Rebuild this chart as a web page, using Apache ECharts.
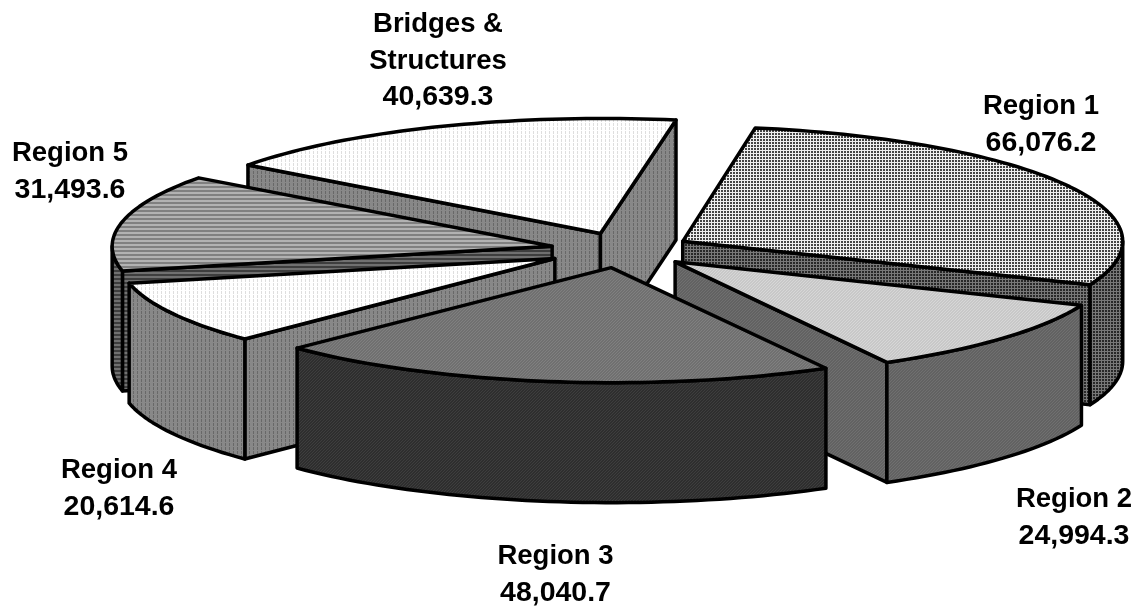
<!DOCTYPE html>
<html>
<head>
<meta charset="utf-8">
<style>html,body{margin:0;padding:0;background:#fff}#chart{width:1138px;height:610px}</style>
<script src="https://cdn.jsdelivr.net/npm/echarts@6/dist/echarts.min.js"></script>
</head>
<body>
<div id="chart"></div>
<script>
// Highway spending by region: exploded 3D pie built on a custom series.
const categories = ['Region 1', 'Region 2', 'Region 3', 'Region 4', 'Region 5', 'Bridges &\nStructures'];
const values = [66076.2, 24994.3, 48040.7, 20614.6, 31493.6, 40639.3];

// Projection of the tilted disc.
const disc = { cx: 621, cy: 250, rx: 441, ry: 115, height: 120, explode: 0.155, startDeg: 9.6 };

// Small horizontal corrections for the lens of the 3D view, per slice.
const rimShift = [1, 1, 1, -1, -1, 7];
const apexShift = [2, 3, 0, -6, -2, 5];

// Back-to-front paint order (indices into categories).
const paintOrder = [5, 4, 0, 3, 1, 2];

// Label centres per slice.
const labelCentres = [[1041, 125], [1074, 518], [555.5, 575], [119, 488.5], [70, 172], [438, 61]];

// Halftone tiles, one row of grey levels per pixel row.
function tile(rows) {
  const c = document.createElement('canvas');
  c.width = rows[0].length; c.height = rows.length;
  const g = c.getContext('2d');
  rows.forEach((row, y) => row.forEach((v, x) => {
    g.fillStyle = 'rgb(' + v + ',' + v + ',' + v + ')';
    g.fillRect(x, y, 1, 1);
  }));
  return { image: c, repeat: 'repeat' };
}
const gridFine = (hi, lo) => tile([[hi, hi, hi], [hi, lo, lo], [hi, lo, lo]]);
const diag = (a, b) => tile([[a, a, b], [a, b, a], [b, a, a]]);
const dots = (a, b) => tile([[a, b, a, a], [a, b, a, a], [a, a, a, a], [a, b, a, a]]);
const lines = (a, b) => tile([[a], [a], [b], [b]]);

const topFill = [gridFine(240, 70), diag(200, 215), diag(112, 128), dots(255, 222), lines(178, 128), dots(255, 222)];
const sideFill = [gridFine(120, 40), diag(98, 112), diag(46, 62), dots(136, 104), lines(112, 62), dots(136, 104)];

const total = values.reduce((s, v) => s + v, 0);
const rad = d => d * Math.PI / 180;
const slices = [];
values.reduce((acc, v, i) => {
  const a0 = disc.startDeg + acc / total * 360;
  const a1 = disc.startDeg + (acc + v) / total * 360;
  const mid = (a0 + a1) / 2;
  const bx = disc.cx + disc.explode * disc.rx * Math.sin(rad(mid));
  slices[i] = {
    a0, a1,
    ox: bx + rimShift[i],
    ax: bx + apexShift[i],
    ay: disc.cy - disc.explode * disc.ry * Math.cos(rad(mid))
  };
  return acc + v;
}, 0);

function rimPoint(s, deg, drop) {
  return [s.ox + disc.rx * Math.sin(rad(deg)), s.ay - disc.ry * Math.cos(rad(deg)) + drop];
}
function arc(s, from, to, drop) {
  const n = Math.max(2, Math.ceil(Math.abs(to - from) / 1.5));
  const pts = [];
  for (let k = 0; k <= n; k++) pts.push(rimPoint(s, from + (to - from) * k / n, drop));
  return pts;
}
const edge = { stroke: '#000', lineWidth: 3.5, lineJoin: 'round' };
const poly = (points, fill) => ({
  type: 'polygon', shape: { points }, style: Object.assign({ fill }, edge)
});

function renderSlice(params, api) {
  const i = api.value(0);
  const s = slices[i];
  const h = disc.height;
  const kids = [];
  // Cut faces that turn towards the viewer.
  const facing = [[s.a0, Math.sin(rad(s.a0)) < 0], [s.a1, Math.sin(rad(s.a1)) > 0]];
  facing.forEach(([a, visible]) => {
    if (!visible) return;
    const p = rimPoint(s, a, 0);
    kids.push(poly([[s.ax, s.ay], p, [p[0], p[1] + h], [s.ax, s.ay + h]], sideFill[i]));
  });
  // Only the part of the rim on the viewer's side of the disc.
  const lo = Math.max(s.a0, 90), hi = Math.min(s.a1, 270);
  if (hi > lo) {
    kids.push(poly(arc(s, lo, hi, 0).concat(arc(s, hi, lo, h)), sideFill[i]));
  }
  kids.push(poly([[s.ax, s.ay]].concat(arc(s, s.a0, s.a1, 0)), topFill[i]));
  return { type: 'group', children: kids };
}

function renderLabel(params, api) {
  const i = api.value(0);
  const c = labelCentres[i];
  const amount = values[i].toLocaleString('en-US', { minimumFractionDigits: 1, maximumFractionDigits: 1 });
  const nameLines = categories[i].split('\n').map(t => '{n|' + t + '}');
  const base = { fontWeight: 'bold', fontFamily: '"Liberation Sans", Arial, sans-serif', lineHeight: 36.5, fill: '#000' };
  return {
    type: 'text', x: c[0], y: c[1],
    style: {
      text: nameLines.concat('{v|' + amount + '}').join('\n'),
      align: 'center', verticalAlign: 'middle',
      rich: {
        n: Object.assign({ fontSize: 27.5 }, base),
        v: Object.assign({ fontSize: 28.5 }, base)
      }
    }
  };
}

const chart = echarts.init(document.getElementById('chart'));
chart.setOption({
  animation: false,
  backgroundColor: '#fff',
  series: [
    { type: 'custom', coordinateSystem: 'none', silent: true, renderItem: renderSlice,
      data: paintOrder.map(i => [i, values[i]]) },
    { type: 'custom', coordinateSystem: 'none', silent: true, renderItem: renderLabel,
      z: 5, data: values.map((v, i) => [i, v]) }
  ]
});
</script>
</body>
</html>
